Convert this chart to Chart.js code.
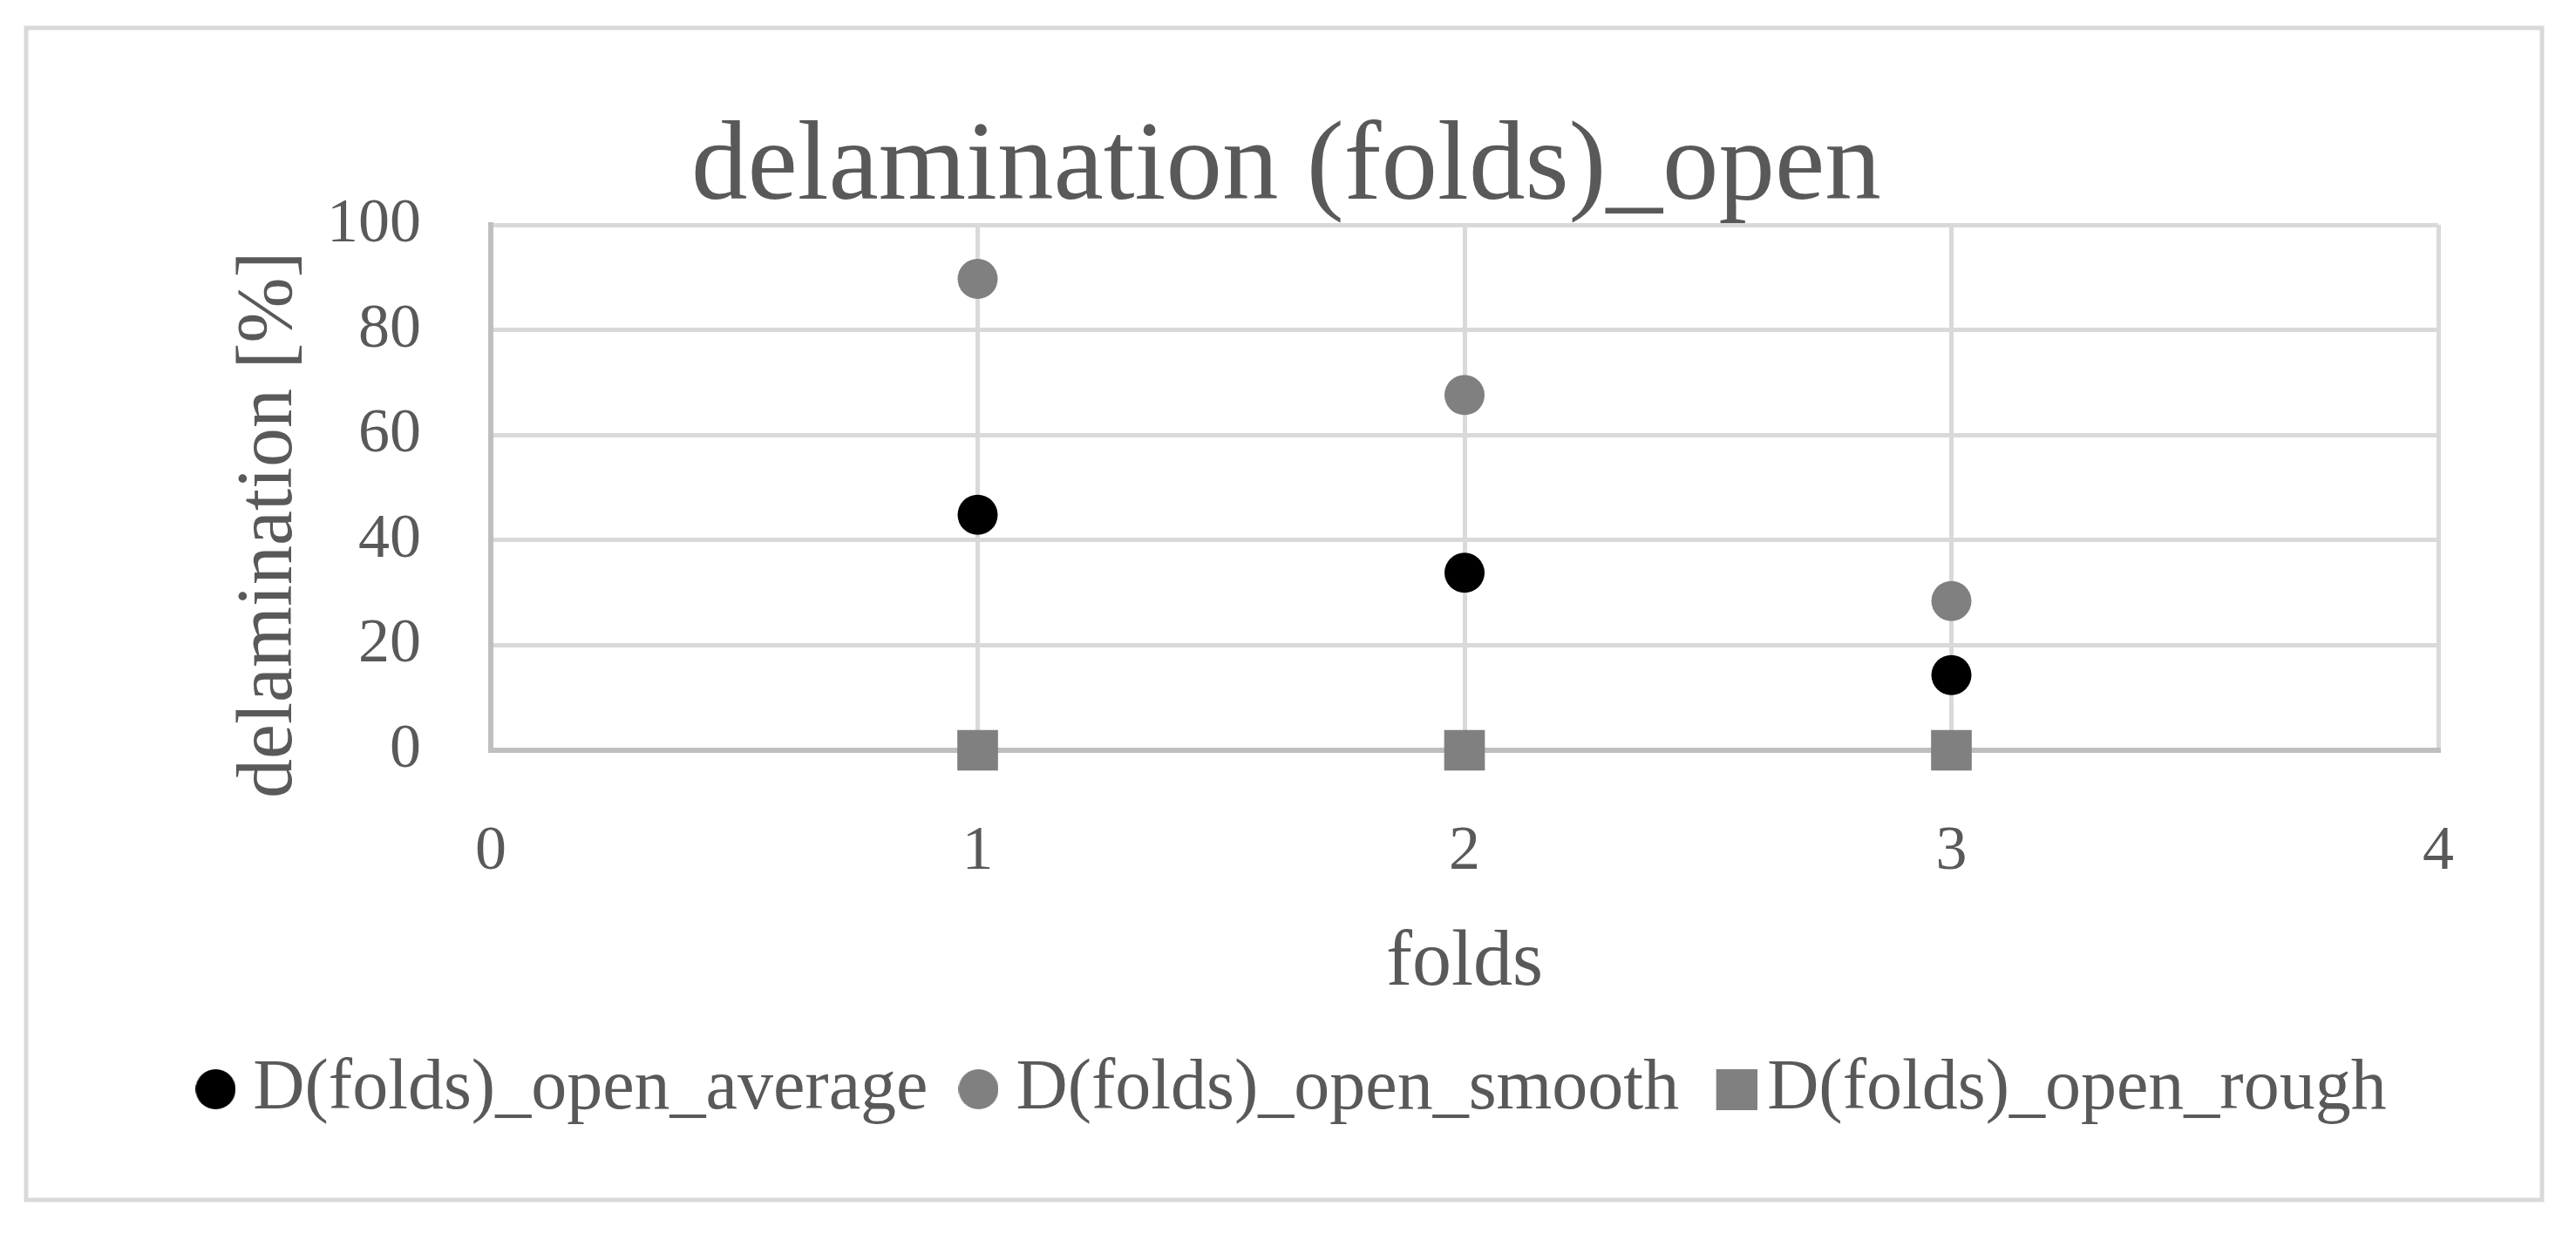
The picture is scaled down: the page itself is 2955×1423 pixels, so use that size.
<!DOCTYPE html>
<html>
<head>
<meta charset="utf-8">
<script src="https://cdn.jsdelivr.net/npm/chart.js@4.4.1/dist/chart.umd.min.js"></script>
<style>
  html, body { margin: 0; padding: 0; background: #ffffff; }
  #wrap { position: absolute; left: 0; top: 0; width: 2955px; height: 1423px; }
</style>
</head>
<body>
<div id="wrap"><canvas id="c" width="2955" height="1423"></canvas></div>
<script>
const folds = [1, 2, 3];
const openAverage = [44.8, 33.8, 14.3];
const openSmooth = [89.7, 67.6, 28.4];
const openRough = [0, 0, 0];
const seriesNames = ['D(folds)_open_average', 'D(folds)_open_smooth', 'D(folds)_open_rough'];
const xTicks = [0, 1, 2, 3, 4];
const yTicks = [0, 20, 40, 60, 80, 100];

const FONT = "'Liberation Serif', 'Times New Roman', serif";
const TXT = '#595959';

function pts(vals) { return folds.map((f, i) => ({ x: f, y: vals[i] })); }

function legendMarker(shape, color, size, shiftRight) {
  const c = document.createElement('canvas');
  c.width = size + 2 * shiftRight; c.height = size;
  const g = c.getContext('2d');
  g.fillStyle = color;
  const ox = 2 * shiftRight;
  if (shape === 'circle') {
    g.beginPath(); g.arc(ox + size / 2, size / 2, size / 2, 0, Math.PI * 2); g.fill();
  } else {
    g.fillRect(ox, 0, size, size);
  }
  return c;
}
const legendIcons = [
  legendMarker('circle', '#000000', 46, 0),
  legendMarker('circle', '#808080', 46, 0),
  legendMarker('rect', '#808080', 47, 8)
];

const borderPlugin = {
  id: 'outerBorder',
  beforeDraw(chart) {
    const ctx = chart.ctx;
    ctx.save();
    ctx.fillStyle = '#ffffff';
    ctx.fillRect(0, 0, chart.width, chart.height);
    ctx.strokeStyle = '#d9d9d9';
    ctx.lineWidth = 5;
    ctx.strokeRect(30, 32, 2886, 1345);
    ctx.restore();
  }
};

new Chart(document.getElementById('c'), {
  type: 'scatter',
  data: {
    datasets: [
      { label: seriesNames[0], data: pts(openAverage), pointStyle: 'circle', pointRadius: 23, pointHoverRadius: 23,
        backgroundColor: '#000000', borderColor: '#000000', borderWidth: 0, pointBorderWidth: 0, showLine: false, clip: false },
      { label: seriesNames[1], data: pts(openSmooth), pointStyle: 'circle', pointRadius: 23, pointHoverRadius: 23,
        backgroundColor: '#808080', borderColor: '#808080', borderWidth: 0, pointBorderWidth: 0, showLine: false, clip: false },
      { label: seriesNames[2], data: pts(openRough), pointStyle: 'rect', pointRadius: 33, pointHoverRadius: 33,
        backgroundColor: '#808080', borderColor: '#808080', borderWidth: 0, pointBorderWidth: 0, showLine: false, clip: false }
    ]
  },
  options: {
    responsive: false,
    animation: false,
    events: [],
    layout: { padding: { left: 186, right: 158, top: 0, bottom: 122 } },
    plugins: {
      title: {
        display: true,
        text: 'delamination (folds)_open\u00A0',
        color: TXT,
        font: { family: FONT, size: 129, weight: 'normal', lineHeight: 127 / 129 },
        padding: { top: 131, bottom: 0 }
      },
      legend: {
        position: 'bottom',
        labels: {
          usePointStyle: true,
          boxHeight: 4,
          boxWidth: 4,
          padding: 56,
          color: TXT,
          font: { family: FONT, size: 82, lineHeight: 1.2 },
          generateLabels(chart) {
            const items = Chart.defaults.plugins.legend.labels.generateLabels(chart);
            items.forEach((it) => { it.pointStyle = legendIcons[it.datasetIndex]; it.lineWidth = 0; });
            return items;
          }
        }
      },
      tooltip: { enabled: false }
    },
    scales: {
      x: {
        type: 'linear',
        min: xTicks[0],
        max: xTicks[xTicks.length - 1],
        afterBuildTicks(scale) { scale.ticks = xTicks.map(v => ({ value: v })); },
        afterFit(scale) { scale.height = 292; },
        grid: { color: '#d9d9d9', lineWidth: 5, drawTicks: false },
        border: { color: '#bfbfbf', width: 6 },
        ticks: { color: TXT, padding: 74, font: { family: FONT, size: 72 } },
        title: { display: true, text: 'folds', color: TXT, font: { family: FONT, size: 90, lineHeight: 0.9 }, padding: { top: 0, bottom: 6 } }
      },
      y: {
        type: 'linear',
        min: yTicks[0],
        max: yTicks[yTicks.length - 1],
        afterBuildTicks(scale) { scale.ticks = yTicks.map(v => ({ value: v })); },
        afterFit(scale) { scale.width = 377; },
        grid: { color: '#d9d9d9', lineWidth: 5, drawTicks: false },
        border: { color: '#bfbfbf', width: 6 },
        ticks: { color: TXT, padding: 80, font: { family: FONT, size: 72 } },
        title: { display: true, text: 'delamination [%]\u00A0\u00A0\u00A0\u2009', color: TXT, font: { family: FONT, size: 90, lineHeight: 1.2 }, padding: { top: 70, bottom: 0 } }
      }
    }
  },
  plugins: [borderPlugin]
});
</script>
</body>
</html>
